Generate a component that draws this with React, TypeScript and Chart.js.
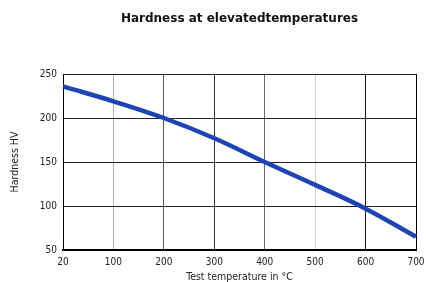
import React, { useEffect, useRef } from "react";
import { Chart, registerables } from "chart.js";

Chart.register(...registerables);

const temperatures = ["20", "100", "200", "300", "400", "500", "600", "700"];
const hardness = [236, 219, 200, 177, 150, 124, 97, 65];
const yTicks = [50, 100, 150, 200, 250];
const titleText = "Hardness at elevatedtemperatures";
const xTitle = "Test temperature in °C";
const yTitle = "Hardness HV";
const xGridColors = ["#000", "#b0b0b0", "#555", "#333", "#666", "#cfcfcf", "#111", "#000"];

const FONT = "'DejaVu Sans Condensed', 'DejaVu Sans'";

const titlePlugin = {
  id: "centeredTitle",
  afterDraw(chart: any) {
    const { ctx, chartArea } = chart;
    ctx.save();
    ctx.font = "bold 12px 'DejaVu Sans'";
    ctx.fillStyle = "#111";
    ctx.textAlign = "center";
    ctx.textBaseline = "middle";
    ctx.fillText(titleText, (chartArea.left + chartArea.right) / 2, 19);
    ctx.restore();
  },
};

export default function App() {
  const ref = useRef<HTMLCanvasElement>(null);
  useEffect(() => {
    const chart = new Chart(ref.current!, {
      type: "line",
      data: {
        labels: temperatures,
        datasets: [
          {
            data: hardness,
            borderColor: "#1c44b4",
            borderWidth: 4.5,
            pointRadius: 0,
            tension: 0.4,
            fill: false,
          },
        ],
      },
      options: {
        animation: false,
        responsive: true,
        maintainAspectRatio: false,
        layout: { padding: { left: 0, right: 10, top: 74, bottom: 0 } },
        plugins: { legend: { display: false }, tooltip: { enabled: false } },
        scales: {
          x: {
            type: "category",
            offset: false,
            afterFit: (s: any) => {
              s.height = 32;
              s.paddingLeft = 0;
              s.paddingRight = 0;
            },
            grid: {
              drawTicks: false,
              color: (c: any) => xGridColors[c.index] ?? "#000",
              lineWidth: 1,
            },
            border: { color: "#000", width: 2 },
            ticks: {
              padding: 6,
              color: "#222",
              font: { family: FONT, size: 10 },
              maxRotation: 0,
              autoSkip: false,
            },
            title: {
              display: true,
              text: xTitle,
              color: "#222",
              font: { family: FONT, size: 10.5 },
              padding: { top: 0, bottom: -2 },
            },
          },
          y: {
            min: 50,
            max: 250,
            afterFit: (s: any) => {
              s.width = 63;
            },
            afterBuildTicks: (s: any) => {
              s.ticks = yTicks.map((v) => ({ value: v }));
            },
            grid: { drawTicks: false, color: "#222", lineWidth: 1 },
            border: { color: "#000", width: 1 },
            ticks: {
              padding: 6,
              color: "#222",
              font: { family: FONT, size: 10 },
            },
            title: {
              display: true,
              text: yTitle,
              color: "#222",
              font: { family: FONT, size: 10.5 },
              padding: { top: 9, bottom: 0 },
            },
          },
        },
      },
      plugins: [titlePlugin],
    });
    return () => chart.destroy();
  }, []);
  return (
    <div style={{ position: "absolute", left: 0, top: 0, width: 426, height: 282, background: "#fff" }}>
      <canvas ref={ref} />
    </div>
  );
}
